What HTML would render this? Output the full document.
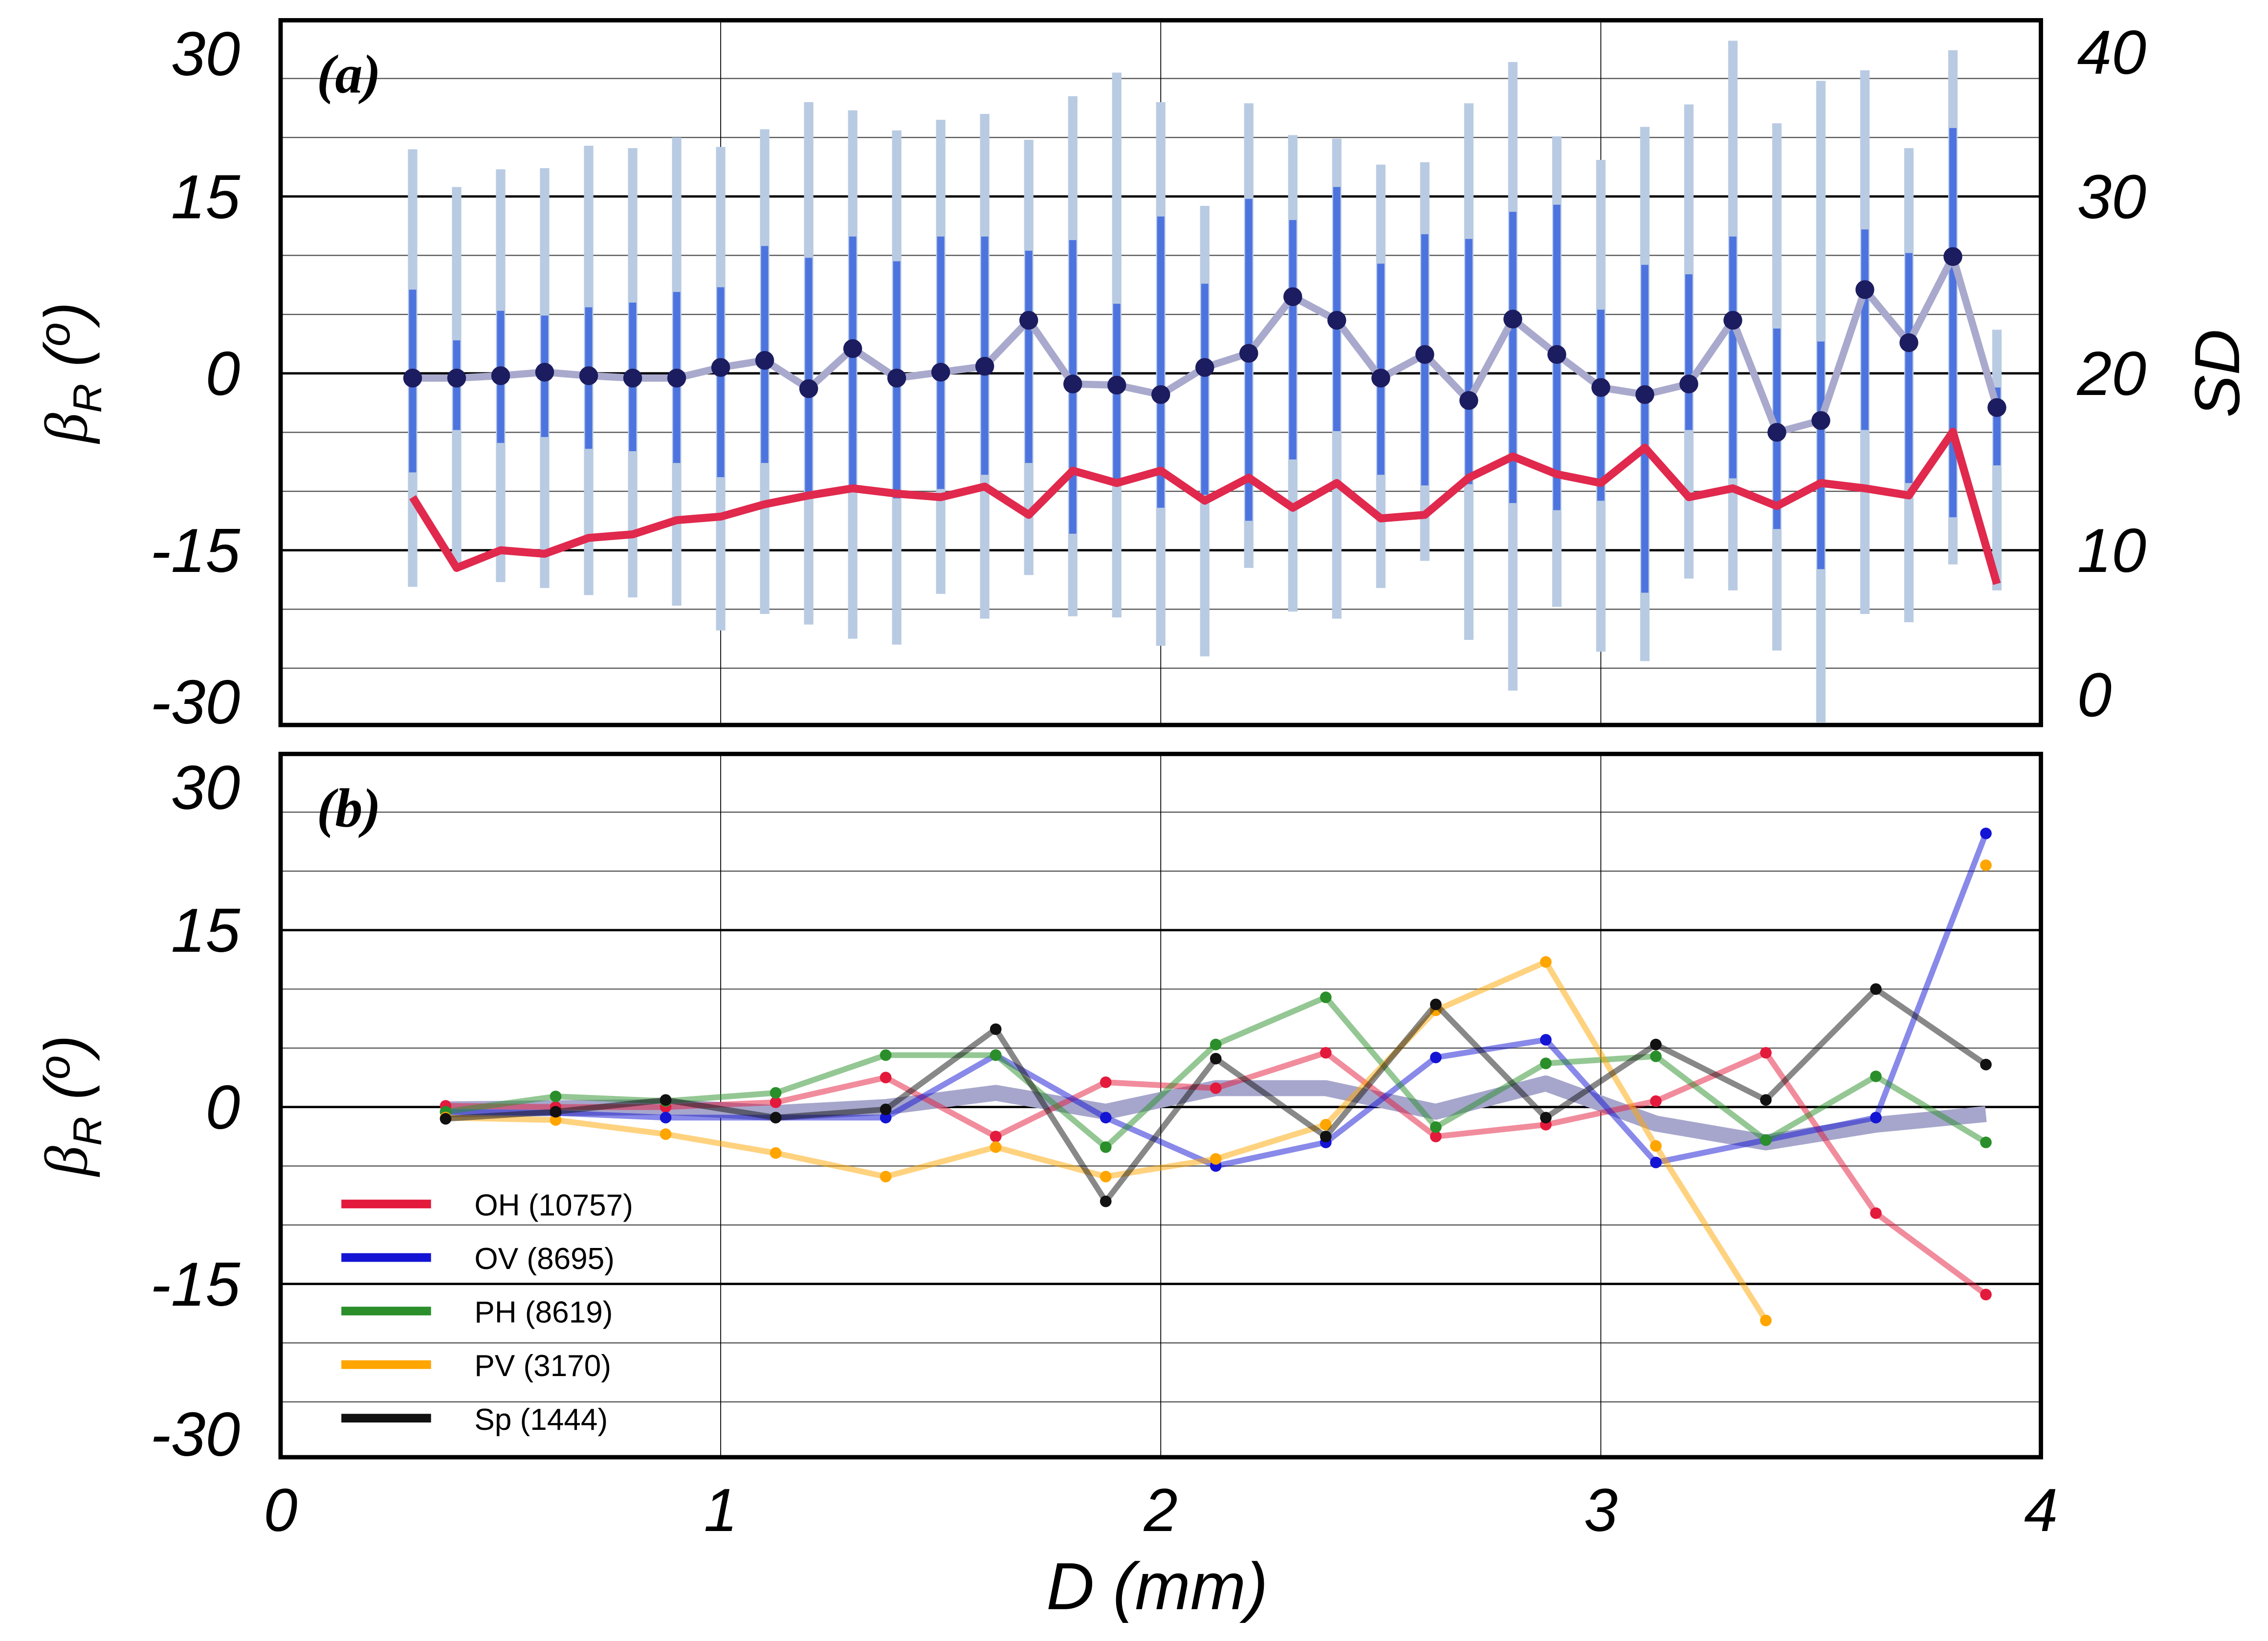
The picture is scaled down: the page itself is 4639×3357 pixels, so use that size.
<!DOCTYPE html>
<html><head><meta charset="utf-8"><style>html,body{margin:0;padding:0;background:#fff}svg{display:block}</style></head>
<body>
<svg id="chart" xmlns="http://www.w3.org/2000/svg" width="4639" height="3357" viewBox="0 0 1568 1134" preserveAspectRatio="none" font-family="'Liberation Sans', sans-serif">
<rect width="1568" height="1134" fill="#fff"/>
<g id="pa"></g><g id="pb"></g>
</svg>
<script>
// Panel (a) data
const dA = [0.3,0.4,0.5,0.6,0.7,0.8,0.9,1.0,1.1,1.2,1.3,1.4,1.5,1.6,1.7,1.8,1.9,2.0,2.1,2.2,2.3,2.4,2.5,2.6,2.7,2.8,2.9,3.0,3.1,3.2,3.3,3.4,3.5,3.6,3.7,3.8,3.9];
const meanA = [-0.4,-0.4,-0.2,0.1,-0.2,-0.4,-0.4,0.5,1.1,-1.3,2.1,-0.4,0.1,0.6,4.5,-0.9,-1.0,-1.8,0.5,1.7,6.5,4.5,-0.4,1.6,-2.3,4.6,1.6,-1.2,-1.8,-0.9,4.5,-5.0,-4.0,7.1,2.6,9.9,-2.9];
const darkTop = [7.1,2.8,5.3,4.9,5.6,6.0,6.9,7.3,10.8,9.8,11.6,9.5,11.6,11.6,10.4,11.3,5.9,13.3,7.6,14.8,13.0,15.8,9.3,11.8,11.4,13.7,14.3,5.4,9.2,8.4,11.6,3.8,2.7,12.2,10.2,20.8,-1.2];
const darkBot = [-8.4,-4.8,-5.9,-5.4,-6.4,-6.6,-7.6,-8.8,-7.6,-10.6,-9.8,-10.6,-9.8,-8.6,-7.6,-13.6,-9.4,-11.4,-10.3,-12.5,-7.3,-4.9,-8.6,-9.5,-9.4,-11.0,-11.6,-10.8,-18.6,-4.8,-8.9,-13.2,-16.6,-4.8,-9.3,-12.2,-7.8];
const lightTop = [19.0,15.8,17.3,17.4,19.3,19.1,20.0,19.2,20.7,23.0,22.3,20.6,21.5,22.0,19.8,23.5,25.5,23.0,14.2,22.9,20.2,19.9,17.7,17.9,22.9,26.4,20.1,18.1,20.9,22.8,28.2,21.2,24.8,25.7,19.1,27.4,3.7];
const lightBot = [-18.1,-16.3,-17.7,-18.2,-18.8,-19.0,-19.7,-21.8,-20.4,-21.3,-22.5,-23.0,-18.7,-20.8,-17.1,-20.6,-20.7,-23.1,-24.0,-16.5,-20.2,-20.8,-18.2,-15.9,-22.6,-26.9,-19.8,-23.6,-24.4,-17.4,-18.4,-23.5,-29.6,-20.4,-21.1,-16.2,-18.4];
const sdA = [13.0,9.0,10.0,9.8,10.7,10.9,11.7,11.9,12.6,13.1,13.5,13.2,13.0,13.6,12.0,14.5,13.8,14.5,12.8,14.1,12.4,13.8,11.8,12.0,14.1,15.3,14.3,13.8,15.8,13.0,13.5,12.5,13.8,13.5,13.1,16.7,8.1];
// Panel (b) data
const dB = [0.375,0.625,0.875,1.125,1.375,1.625,1.875,2.125,2.375,2.625,2.875,3.125,3.375,3.625,3.875];
const bandB = [-0.2,-0.1,0,-0.5,0,1.2,-0.4,1.6,1.6,-0.4,2.0,-1.4,-3.0,-1.5,-0.6];
const ohB = [0.1,0,0,0.4,2.5,-2.5,2.1,1.6,4.6,-2.5,-1.5,0.5,4.6,-9.0,-15.9];
const ovB = [-0.4,-0.5,-0.9,-0.9,-0.9,4.4,-0.9,-5.0,-3.0,4.2,5.7,-4.7,-2.8,-0.9,23.2];
const phB = [-0.4,0.9,0.5,1.2,4.4,4.4,-3.4,5.3,9.3,-1.7,3.7,4.3,-2.8,2.6,-3.0];
const pvB = [-0.9,-1.1,-2.3,-3.9,-5.9,-3.4,-5.9,-4.4,-1.5,8.2,12.3,-3.3,-18.1,null,20.5];
const spB = [-1.0,-0.4,0.6,-0.9,-0.2,6.6,-8.0,4.1,-2.5,8.7,-0.9,5.3,0.6,10.0,3.6];
const seriesNames = ["OH (10757)","OV (8695)","PH (8619)","PV (3170)","Sp (1444)"];
const seriesColors = ["#e31a3c","#1414d4","#2a8f2a","#ffa500","#111111"];
const yTicks = [30,15,0,-15,-30];
const sdTicks = [40,30,20,10,0];
const xTicks = [0,1,2,3,4];

const NS="http://www.w3.org/2000/svg";
const X0=194,X1=1411;
const xs=d=>X0+(X1-X0)*d/4;
function mk(p,tag,at,txt){const e=document.createElementNS(NS,tag);for(const k in at)e.setAttribute(k,at[k]);if(txt!=null)e.textContent=txt;p.appendChild(e);return e;}
const k=8.15;
function panel(g,top,bot,zero,label){
  const ys=v=>zero-v*k;
  for(let v=-25;v<=30;v+=5){if(v%15===0)continue;const y=ys(v);if(y<=top||y>=bot)continue;
    const l=mk(g,'line',{x1:X0,x2:X1,y1:y,y2:y,stroke:'#555',"stroke-width":0.8});
    }
  [15,0,-15].forEach(v=>{const l=mk(g,'line',{x1:X0,x2:X1,y1:ys(v),y2:ys(v),stroke:'#000',"stroke-width":1.6});
    });
  [1,2,3].forEach(d=>{const l=mk(g,'line',{x1:xs(d),x2:xs(d),y1:top,y2:bot,stroke:'#000',"stroke-width":0.6});
    });
  yTicks.forEach(v=>{let y=ys(v)+15; if(v===30)y=top+38; if(v===-30)y=bot-1;
    const t=mk(g,'text',{x:166,y:y,"text-anchor":"end","font-size":43,"font-style":"italic"},String(v));
    });
  const tl=mk(g,'text',{x:0,y:0,transform:`translate(60,${(top+bot)/2}) rotate(-90)`,"text-anchor":"middle","font-size":42,"font-style":"italic"});
  tl.innerHTML='<tspan font-family="Liberation Serif, serif">β</tspan><tspan font-size="28" dy="10">R</tspan><tspan dy="-10"> (</tspan><tspan font-size="30" dy="-12">o</tspan><tspan dy="12">)</tspan>';
  
  const pl=mk(g,'text',{x:219,y:top+50,"font-size":38,"font-weight":"bold","font-style":"italic","font-family":"'Liberation Serif', serif"},label);
  
  return ys;
}
// Panel A
const ga=document.getElementById('pa');
const ysA=panel(ga,14,501,258,'(a)');
const sdY=s=>258-(s-20)*1.5*k;
dA.forEach((d,i)=>{const x=xs(d);
  const l=mk(ga,'line',{x1:x,x2:x,y1:ysA(lightTop[i]),y2:ysA(lightBot[i]),stroke:'#b9cbe3',"stroke-width":6.5});
  });
dA.forEach((d,i)=>{const x=xs(d);
  const l=mk(ga,'line',{x1:x,x2:x,y1:ysA(darkTop[i]),y2:ysA(darkBot[i]),stroke:'#4d74de',"stroke-width":5});
  });
const mp=mk(ga,'polyline',{points:dA.map((d,i)=>xs(d)+','+ysA(meanA[i])).join(' '),fill:'none',stroke:'#a9a9cd',"stroke-width":5});

dA.forEach((d,i)=>{const c=mk(ga,'circle',{cx:xs(d),cy:ysA(meanA[i]),r:6.5,fill:'#1c1c60'});
  });
const sp=mk(ga,'polyline',{points:dA.map((d,i)=>xs(d)+','+sdY(sdA[i])).join(' '),fill:'none',stroke:'#e0294d',"stroke-width":5.5,"stroke-linejoin":"round"});

sdTicks.forEach(s=>{let y=sdY(s)+15; if(s===40)y=51; if(s===0)y=495;
  const t=mk(ga,'text',{x:1436,y:y,"font-size":43,"font-style":"italic"},String(s));
  });
const st=mk(ga,'text',{x:0,y:0,transform:'translate(1548,258) rotate(-90)',"text-anchor":"middle","font-size":44,"font-style":"italic"},'SD');

const fa=mk(ga,'rect',{x:X0,y:14,width:X1-X0,height:487,fill:'none',stroke:'#000',"stroke-width":3});

// Panel B
const gb=document.getElementById('pb');
const ysB=panel(gb,521,1007,765,'(b)');
const bl=mk(gb,'polyline',{points:dB.map((d,i)=>xs(d)+','+ysB(bandB[i])).join(' '),fill:'none',stroke:'#a6a6cc',"stroke-width":11,"stroke-linejoin":"round"});

[ohB,ovB,phB,pvB,spB].forEach((arr,si)=>{
  const col=seriesColors[si];let seg=[];
  const flush=()=>{if(seg.length>1){const p=mk(gb,'polyline',{points:seg.join(' '),fill:'none',stroke:col,"stroke-opacity":0.5,"stroke-width":4,"stroke-linejoin":"round"});
    }seg=[];};
  arr.forEach((v,i)=>{if(v==null){flush();return;}seg.push(xs(dB[i])+','+ysB(v));});flush();
  arr.forEach((v,i)=>{if(v==null)return;const c=mk(gb,'circle',{cx:xs(dB[i]),cy:ysB(v),r:4,fill:col});
    });
});
seriesNames.forEach((n,i)=>{const y=832+i*37;
  const g=mk(gb,'g',{});
  mk(g,'line',{x1:236,x2:298,y1:y,y2:y,stroke:seriesColors[i],"stroke-width":6});
  mk(g,'text',{x:328,y:y+8,"font-size":21},n);});
const fb=mk(gb,'rect',{x:X0,y:521,width:X1-X0,height:486,fill:'none',stroke:'#000',"stroke-width":3});

xTicks.forEach(d=>{const t=mk(gb,'text',{x:xs(d),y:1058,"text-anchor":"middle","font-size":42,"font-style":"italic"},String(d));
  });
const xt=mk(gb,'text',{x:800,y:1112,"text-anchor":"middle","font-size":46,"font-style":"italic"},'D (mm)');

</script>
</body></html>
